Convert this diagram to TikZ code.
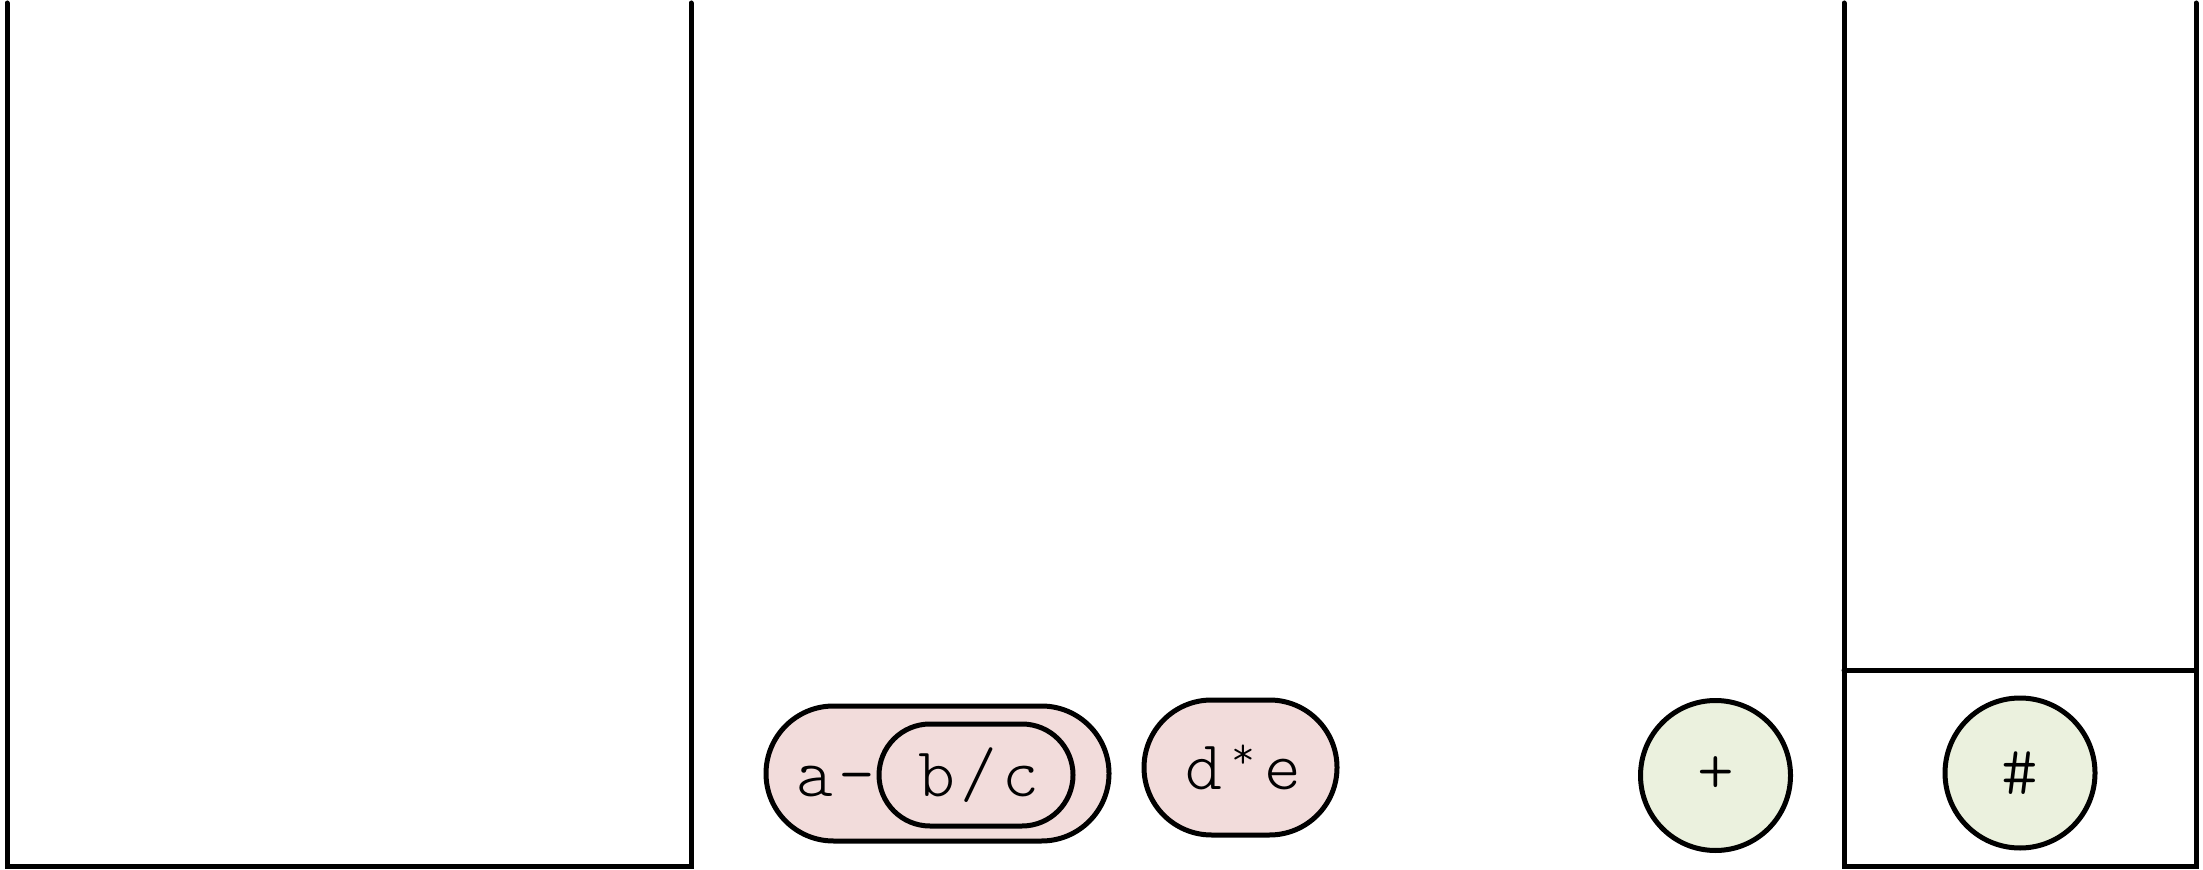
\documentclass[tikz,border=0pt]{standalone}
\usepackage{fontspec}
\usepackage{graphicx}
\usetikzlibrary{shapes.misc}
\newfontfamily\codefont[LetterSpace=7.5]{lmmonolt10-regular.otf}
\definecolor{pinkfill}{HTML}{F2DCDB}
\definecolor{greenfill}{HTML}{EBF1DE}
\tikzset{
  wall/.style={line width=2.5pt, line cap=round, line join=miter},
  capsule/.style={rounded rectangle, draw, line width=2.5pt, fill=pinkfill, inner sep=0pt},
  ball/.style={circle, draw, line width=2.5pt, fill=greenfill, inner sep=0pt, minimum size=75pt,
    font=\codefont\fontsize{35pt}{40pt}\selectfont},
  code/.style={inner sep=0pt, font=\codefont\fontsize{35pt}{40pt}\selectfont}
}
\begin{document}
\begin{tikzpicture}[x=0.5pt,y=-0.5pt]
\useasboundingbox (0,0) rectangle (2203,870);
% containers
\draw[wall] (7,3) -- (7,866) -- (691,866) -- (691,3);
\draw[wall] (1844,3) -- (1844,866) -- (2196,866) -- (2196,3);
\draw[wall] (1844,670) -- (2196,670);
% capsules
\node[capsule, minimum width=171.5pt, minimum height=67.5pt] (outer) at (937.5,773.5) {};
\node[capsule, minimum width=97pt, minimum height=51pt] (inner) at (976,775) {};
\node[code, anchor=base] (am) at (836,796) {a-};
\node[code, anchor=base] (bc) at (979,796) {b/c};
\node[capsule, minimum width=96.5pt, minimum height=67.5pt] (de) at (1240.5,767.5) {};
\node[code, anchor=base] (detext) at (1243,789) {d\makebox[0.6em]{\raisebox{0.3em}{\scalebox{0.65}{*}}}e};
% balls
\node[ball] (plus) at (1715.5,775.5) {+};
\node[ball] (hash) at (2020,773) {\#};
\end{tikzpicture}
\end{document}
